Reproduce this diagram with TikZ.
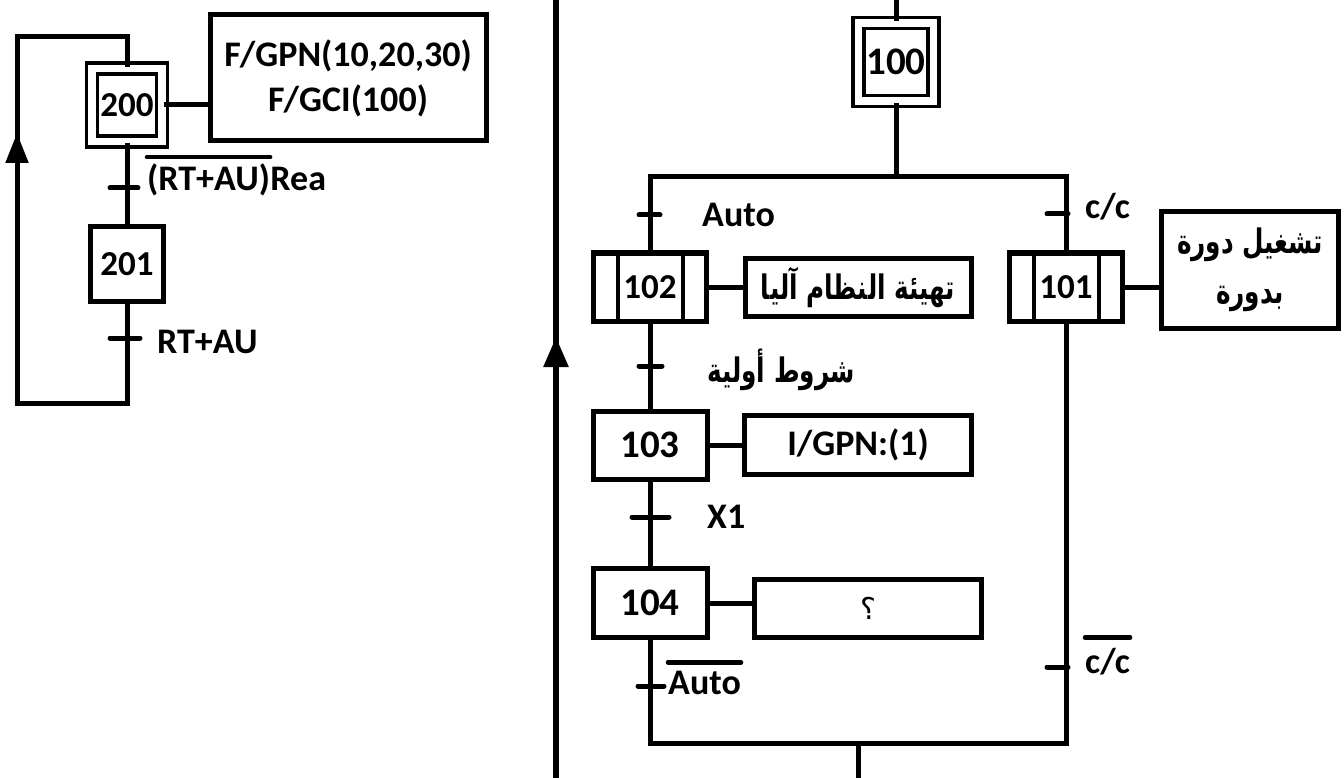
\documentclass[tikz,border=0pt]{standalone}
\usepackage{fontspec}
\usepackage{graphicx}
\setmainfont{Carlito}
\newfontfamily\arabicfont[Script=Arabic]{DejaVu Sans}
\TeXXeTstate=1
\usetikzlibrary{arrows.meta,positioning}
\newcommand{\gfs}[1]{\fontsize{#1}{#1}\selectfont}
\newcommand{\artxt}[1]{\scalebox{0.95}[1.3]{\beginR #1\endR}}
\tikzset{
  link/.style={draw=black, line width=5pt},
  tick/.style={draw=black, line width=5pt, line cap=round},
  stepbox/.style={rectangle, draw=black, line width=5pt, fill=white, inner sep=0pt,
    minimum width=113pt, minimum height=68pt, font=\bfseries\gfs{35}},
  initstep/.style={stepbox, line width=3.5pt, double, double distance=7.5pt},
  macrostep/.style={stepbox, path picture={
      \draw[line width=4pt] ([xshift=24pt]path picture bounding box.north west) -- ([xshift=24pt]path picture bounding box.south west);
      \draw[line width=4pt] ([xshift=-24pt]path picture bounding box.north east) -- ([xshift=-24pt]path picture bounding box.south east);}},
  action/.style={rectangle, draw=black, line width=5pt, fill=white, inner sep=0pt,
    align=center, font=\bfseries\gfs{36}},
  cond/.style={inner sep=0pt, font=\bfseries\gfs{36}, anchor=base west},
  arcond/.style={inner sep=0pt, font=\arabicfont\bfseries\gfs{26}},
  bar/.style={draw=black, line width=4.5pt, line cap=round},
  uparrow/.style={-{Triangle[length=30pt,width=22pt]}, line width=5pt},
}

\begin{document}
\begin{tikzpicture}[x=1pt,y=-1pt]
\useasboundingbox (0,0) rectangle (1344,778);

% Loop sequence
\node[initstep, minimum width=70pt, minimum height=73pt] (s200) at (127,105) {200};
\node[action, minimum width=276pt, minimum height=126pt,
  font=\bfseries\fontsize{36}{45}\selectfont] (a200) at (348,78) {F/GPN(10,20,30)\\F/GCI(100)};
\node[stepbox, minimum width=73pt, minimum height=74pt] (s201) at (127,264) {201};
\coordinate (t200) at (127,188);
\coordinate (t201) at (127,338);
\coordinate (lpbl) at (17,403);
\coordinate (lptl) at (17,37);
\coordinate (lpup) at (17,168);
\coordinate (lptip) at (17,133);
\draw[link] (s200.east) -- (s200.east -| a200.west);
\draw[link] (s200.south) -- (s201.north);
\draw[link] (s201.south) |- (lpbl) -- (lptl) -| (s200.north);
\draw[uparrow] (lpup) -- (lptip);
\draw[tick] ([xshift=-17pt]t200) -- ([xshift=11pt]t200);
\draw[tick] ([xshift=-17pt]t201) -- ([xshift=13pt]t201);
\node[cond] (crtau) at (147,191) {(RT+AU)};
\node[cond] (crea) at (crtau.base east) {Rea};
\draw[bar] ([yshift=7pt]crtau.north west) -- ([yshift=7pt]crtau.north east);
\node[cond] (crtaub) at (157,353) {RT+AU};

% Divider
\coordinate (dvtop) at (556,0);
\coordinate (dvbot) at (556,778);
\coordinate (dvup) at (556,372);
\coordinate (dvtip) at (556,337);
\draw[link, line width=5.5pt] (dvtop) -- (dvbot);
\draw[uparrow, line width=5.5pt, -{Triangle[length=30pt,width=24pt]}] (dvup) -- (dvtip);

% Main sequence
\node[initstep, minimum width=75pt, minimum height=78pt, font=\bfseries\gfs{39}] (s100) at (896,62) {100};
\coordinate (in100) at (896,0);
\coordinate (divr) at (1066,177);
\coordinate (divm) at (896,177);
\node[macrostep] (s102) at (650,287) {102};
\node[action, minimum width=226pt, minimum height=58pt,
  font=\arabicfont\bfseries\gfs{26}] (a102) at (858,287) {\artxt{تهيئة النظام آليا}};
\node[macrostep] (s101) at (1066,287) {101};
\node[action, minimum width=177pt, minimum height=117pt,
  font=\arabicfont\bfseries\fontsize{26}{50}\selectfont] (a101) at (1250,270) {\artxt{تشغيل دورة}\\\artxt{بدورة}};
\node[stepbox, minimum width=114pt, font=\bfseries\gfs{39}] (s103) at (650,445) {103};
\node[action, minimum width=227pt, minimum height=59pt] (a103) at (858,445) {I/GPN:(1)};
\node[stepbox, minimum width=114pt, minimum height=69pt, font=\bfseries\gfs{39}] (s104) at (650,603) {104};
\node[action, minimum width=227pt, minimum height=58pt,
  font=\arabicfont\gfs{30}] (a104) at (868,608) {\beginR ؟\endR};
\coordinate (convr) at (1066,743);
\coordinate (convm) at (858,743);
\coordinate (out104) at (858,778);
\draw[link] (in100) -- (s100.north);
\draw[link] (s100.south) -- (divm);
\draw[link] (s102.north) |- (divr) -- (s101.north);
\draw[link] (s102.south) -- (s103.north);
\draw[link] (s103.south) -- (s104.north);
\draw[link] (s104.south) |- (convr) -- (s101.south);
\draw[link] (convm) -- (out104);
\draw[link] (s102.east) -- (a102.west);
\draw[link] (s101.east) -- (s101.east -| a101.west);
\draw[link] (s103.east) -- (a103.west);
\draw[link] (s104.east) -- (s104.east -| a104.west);

% Transitions
\coordinate (tauto) at (650,215);
\coordinate (tcc) at (1066,214);
\coordinate (tinit) at (650,366);
\coordinate (tx1) at (650,517);
\coordinate (tnauto) at (650,686);
\coordinate (tncc) at (1066,667);
\draw[tick] ([xshift=-11pt]tauto) -- ([xshift=10pt]tauto);
\draw[tick] ([xshift=-19pt]tcc) -- ([xshift=2pt]tcc);
\draw[tick] ([xshift=-11pt]tinit) -- ([xshift=12pt]tinit);
\draw[tick] ([xshift=-18pt]tx1) -- ([xshift=19pt]tx1);
\draw[tick] ([xshift=-12pt]tnauto) -- ([xshift=14pt]tnauto);
\draw[tick] ([xshift=-19pt]tncc) -- ([xshift=2pt]tncc);
\node[cond] (cauto) at (702,227) {Auto};
\node[cond] (ccc) at (1085,219) {c/c};
\node[arcond] (cinit) at (781,370) {\artxt{شروط أولية}};
\node[cond] (cx1) at (707,528) {X1};
\node[cond] (cnauto) at (668,694) {Auto};
\draw[bar] ([yshift=8pt]cnauto.north west) -- ([yshift=8pt]cnauto.north east);
\node[cond] (cncc) at (1085,673) {c/c};
\draw[bar] ([yshift=10pt]cncc.north west) -- ([yshift=10pt]cncc.north east);

\end{tikzpicture}
\end{document}
